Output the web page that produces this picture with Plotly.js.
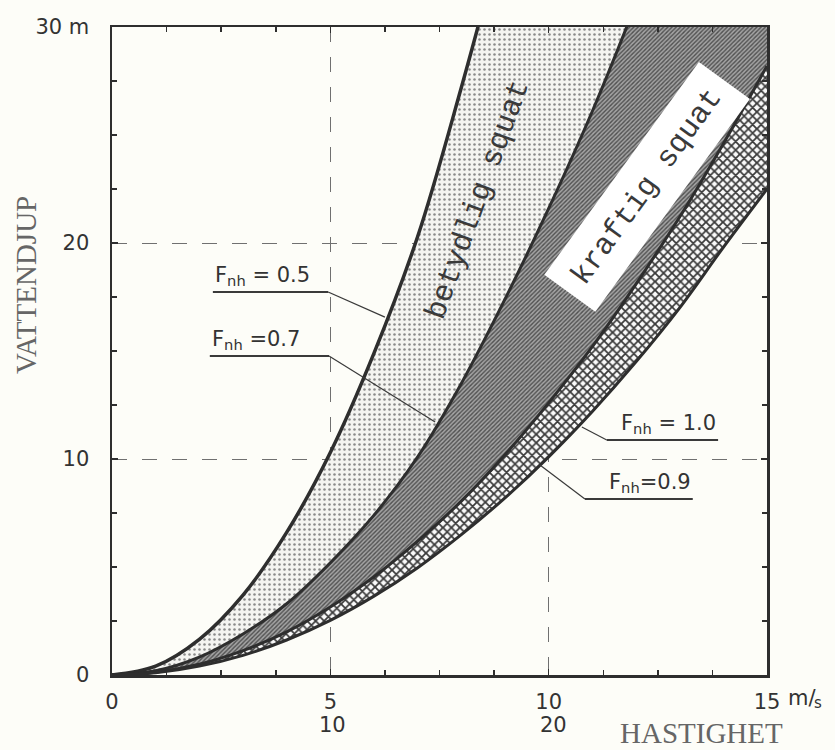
<!DOCTYPE html>
<html>
<head>
<meta charset="utf-8">
<script src="https://cdn.plot.ly/plotly-3.0.1.min.js"></script>
<style>
  html, body { margin: 0; padding: 0; background: #fdfdf8; }
  #chart { width: 835px; height: 750px; }
</style>
</head>
<body>
<div id="chart"></div>
<script>
// Speed (m/s) against water depth (m) for constant depth Froude numbers Fnh.
const speed = [0, 1, 2, 3, 4, 5, 6, 7, 8, 9, 10, 11, 12, 13, 14, 15];

// Depth along each Fnh curve, read at the speeds above
const depthFnh05 = [0, 0.41, 1.65, 3.7, 6.6, 10.3, 14.9, 20.3, 27.2, 34.7];
const depthFnh07 = [0, 0.2, 0.83, 1.9, 3.3, 5.2, 7.4, 10.1, 13.5, 17.4, 21.6, 26.1, 31.1, 36.5, 42.2, 48.5];
const depthFnh09 = [0, 0.13, 0.5, 1.13, 2.0, 3.15, 4.55, 6.2, 8.05, 10.2, 12.6, 15.2, 18.1, 21.2, 24.6, 28.2];
const depthFnh10 = [0, 0.1, 0.41, 0.91, 1.62, 2.53, 3.65, 4.97, 6.5, 8.2, 10.1, 12.2, 14.5, 17.0, 19.8, 22.5];

// Curve labels and zone labels
const curveLabels = ['F<sub>nh</sub> = 0.5', 'F<sub>nh</sub> =0.7', 'F<sub>nh</sub> = 1.0', 'F<sub>nh</sub>=0.9'];
const zoneLabels = ['betydlig squat', 'kraftig squat'];
const knotLabels = ['10', '20'];

const ink = '#2e2e2e';
const labelFont = { family: 'DejaVu Sans', size: 21, color: '#333' };
const unitSubFont = { family: 'DejaVu Sans', size: 15, color: '#333' };
const typeFont = { family: 'Liberation Mono', size: 30, color: '#3a3a3a' };
const serifFont = { family: 'Liberation Serif', size: 29, color: '#666' };

const traces = [
  {
    x: speed.slice(0, depthFnh05.length), y: depthFnh05,
    mode: 'lines', line: { color: ink, width: 3.5, shape: 'spline' },
    hoverinfo: 'skip', showlegend: false
  },
  {
    x: speed, y: depthFnh07,
    mode: 'lines', line: { color: ink, width: 3, shape: 'spline' },
    fill: 'tonexty', fillcolor: '#f1f1ee',
    fillpattern: { shape: '.', size: 5, solidity: 0.2, fgcolor: '#8a8a8a', bgcolor: '#f4f4f1', fillmode: 'replace' },
    hoverinfo: 'skip', showlegend: false
  },
  {
    x: speed, y: depthFnh09,
    mode: 'lines', line: { color: ink, width: 3, shape: 'spline' },
    fill: 'tonexty', fillcolor: '#888',
    fillpattern: { shape: '/', size: 3, solidity: 0.45, fgcolor: '#505050', bgcolor: '#a4a4a4', fillmode: 'replace' },
    hoverinfo: 'skip', showlegend: false
  },
  {
    x: speed, y: depthFnh10,
    mode: 'lines', line: { color: ink, width: 3, shape: 'spline' },
    fill: 'tonexty', fillcolor: '#666',
    fillpattern: { shape: 'x', size: 6, solidity: 0.5, fgcolor: '#3a3a3a', bgcolor: '#fafafa', fillmode: 'replace' },
    hoverinfo: 'skip', showlegend: false
  }
];

// Underlines and leader lines from each label to its curve
function leader(x0, x1, y, xe, ye) {
  return [
    { type: 'line', xref: 'x', yref: 'y', x0: x0, x1: x1, y0: y, y1: y, line: { color: '#3a3a3a', width: 2 } },
    { type: 'line', xref: 'x', yref: 'y', x0: (xe > x1 ? x1 : x0), y0: y, x1: xe, y1: ye, line: { color: '#3a3a3a', width: 1.2 } }
  ];
}
const shapes = [].concat(
  leader(2.31, 4.95, 17.73, 6.25, 16.57),
  leader(2.24, 4.97, 14.77, 7.40, 11.71),
  leader(11.33, 13.88, 10.88, 10.76, 11.48),
  leader(10.83, 13.30, 8.15, 9.80, 9.72)
);

const annotations = [
  { x: 2.31, y: 17.73, xanchor: 'left', yanchor: 'bottom', yshift: 1, text: curveLabels[0], showarrow: false, font: labelFont },
  { x: 2.24, y: 14.77, xanchor: 'left', yanchor: 'bottom', yshift: 1, text: curveLabels[1], showarrow: false, font: labelFont },
  { x: 13.88, y: 10.88, xanchor: 'right', yanchor: 'bottom', yshift: 1, text: curveLabels[2], showarrow: false, font: labelFont },
  { x: 13.30, y: 8.15, xanchor: 'right', yanchor: 'bottom', yshift: 1, text: curveLabels[3], showarrow: false, font: labelFont },
  { x: 8.38, y: 22.0, xanchor: 'center', yanchor: 'middle', text: zoneLabels[0], textangle: -70, showarrow: false, font: typeFont },
  { x: 12.25, y: 22.6, xanchor: 'center', yanchor: 'middle', text: zoneLabels[1], textangle: -54, showarrow: false, font: typeFont,
    bgcolor: '#ffffff', borderpad: 14 },
  { x: 5.05, y: -0.077, yref: 'paper', xanchor: 'center', yanchor: 'middle', text: knotLabels[0], showarrow: false, font: labelFont },
  { x: 10.1, y: -0.077, yref: 'paper', xanchor: 'center', yanchor: 'middle', text: knotLabels[1], showarrow: false, font: labelFont },
  // unit after the 15 tick label: "m/" with a lowered small "s"
  { x: 15, y: -0.036, yref: 'paper', xanchor: 'left', yanchor: 'middle', xshift: 19, text: 'm/', showarrow: false, font: labelFont },
  { x: 15, y: -0.043, yref: 'paper', xanchor: 'left', yanchor: 'middle', xshift: 45, text: 's', showarrow: false, font: unitSubFont },
  { x: 13.51, y: -0.09, yref: 'paper', xanchor: 'center', yanchor: 'middle', text: 'HASTIGHET', showarrow: false, font: serifFont },
  { x: -0.131, xref: 'paper', y: 0.602, yref: 'paper', xanchor: 'center', yanchor: 'middle', text: 'VATTENDJUP', textangle: -90, showarrow: false, font: serifFont }
];

const axisCommon = {
  showline: true, linewidth: 2.5, linecolor: ink, mirror: 'allticks',
  ticks: 'inside', ticklen: 6, tickwidth: 1.5, tickcolor: ink,
  showgrid: true, gridcolor: '#707070', gridwidth: 1, griddash: 'longdash',
  zeroline: false, tickfont: labelFont, fixedrange: true
};

const layout = {
  width: 835, height: 750,
  margin: { l: 112, r: 68, t: 27, b: 75 },
  paper_bgcolor: '#fdfdf8', plot_bgcolor: '#fdfdf8',
  showlegend: false,
  xaxis: Object.assign({}, axisCommon, {
    range: [0, 15], tickmode: 'linear', tick0: 0, dtick: 5, ticklabelstandoff: 6,
    minor: { tickmode: 'linear', tick0: 0, dtick: 1.25, ticks: 'inside', ticklen: 5, tickcolor: ink, showgrid: false }
  }),
  yaxis: Object.assign({}, axisCommon, {
    range: [0, 30], tickmode: 'linear', tick0: 0, dtick: 10, ticklabelstandoff: 16,
    labelalias: { '30': '30 m' },
    minor: { tickmode: 'linear', tick0: 0, dtick: 2.5, ticks: 'inside', ticklen: 5, tickcolor: ink, showgrid: false }
  }),
  shapes: shapes,
  annotations: annotations
};

Plotly.newPlot('chart', traces, layout, { staticPlot: true });
</script>
</body>
</html>
